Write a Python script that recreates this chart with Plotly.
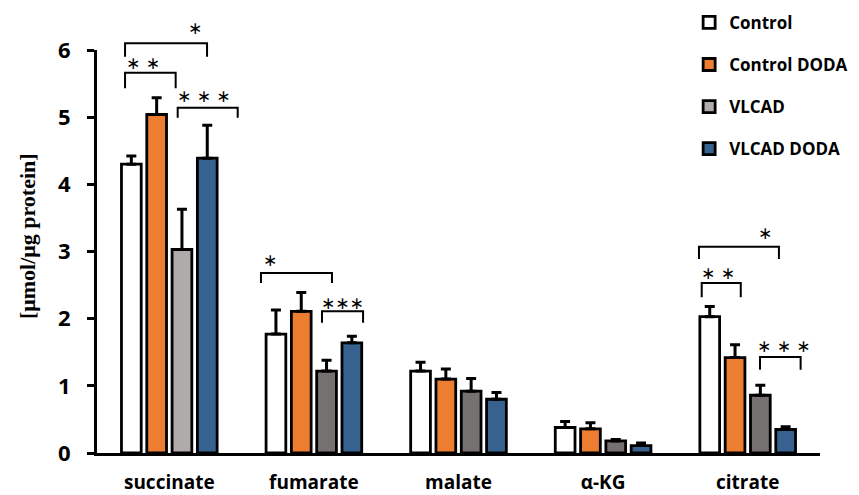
import plotly.graph_objects as go

# ---------------- data ----------------
categories = ["succinate", "fumarate", "malate", "α-KG", "citrate"]
series_names = ["Control", "Control DODA", "VLCAD", "VLCAD DODA"]

control = [4.30, 1.77, 1.22, 0.38, 2.03]
control_err = [0.12, 0.36, 0.13, 0.09, 0.15]
control_doda = [5.04, 2.11, 1.10, 0.36, 1.42]
control_doda_err = [0.25, 0.28, 0.15, 0.09, 0.19]
vlcad = [3.03, 1.22, 0.92, 0.18, 0.86]
vlcad_err = [0.60, 0.16, 0.19, 0.02, 0.15]
vlcad_doda = [4.39, 1.64, 0.80, 0.11, 0.35]
vlcad_doda_err = [0.49, 0.10, 0.10, 0.04, 0.04]

y_ticks = [0, 1, 2, 3, 4, 5, 6]
y_title = "[μmol/μg protein]"

# significance brackets: category index, left/right offset (category units),
# top y, leg-bottom y, label, label x offset, label y
brackets = [
    (0, -0.306, 0.261, 6.10, 5.90, "∗", 0.178, 6.33),
    (0, -0.306, 0.044, 5.66, 5.43, "∗ ∗", -0.182, 5.81),
    (0, 0.058, 0.473, 5.14, 4.99, "∗ ∗ ∗", 0.240, 5.32),
    (1, -0.366, 0.125, 2.68, 2.53, "∗", -0.304, 2.88),
    (1, 0.056, 0.340, 2.11, 1.94, "∗∗∗", 0.201, 2.23),
    (4, -0.337, 0.216, 3.07, 2.89, "∗", 0.120, 3.27),
    (4, -0.318, -0.048, 2.53, 2.32, "∗ ∗", -0.205, 2.68),
    (4, 0.085, 0.366, 1.43, 1.24, "∗ ∗ ∗", 0.251, 1.59),
]

# ---------------- styles ----------------
colors = ["#FFFFFF", "#ED7D31", "#767171", "#37628F"]
vlcad_colors = ["#AFABAB", "#767171", "#767171", "#767171", "#767171"]
XR = [-0.5, 4.5]
YR = [0, 6]
FONT = "Open Sans"

values = [control, control_doda, vlcad, vlcad_doda]
errors = [control_err, control_doda_err, vlcad_err, vlcad_doda_err]

fig = go.Figure()
for i, name in enumerate(series_names):
    fig.add_trace(go.Bar(
        x=categories,
        y=values[i],
        name=name,
        legendgroup=name,
        marker=dict(color=vlcad_colors if i == 2 else colors[i],
                    line=dict(color="black", width=2.8)),
        error_y=dict(type="data", array=errors[i], symmetric=False,
                     arrayminus=[0] * len(categories),
                     thickness=3, width=5, color="black"),
    ))


def xp(c):
    return (c - XR[0]) / (XR[1] - XR[0])


def yp(v):
    return (v - YR[0]) / (YR[1] - YR[0])


shapes = []
annotations = []
for cat, xl, xr, yt, yb, lab, sx, sy in brackets:
    x0, x1 = xp(cat + xl), xp(cat + xr)
    shapes.append(dict(
        type="path", xref="paper", yref="paper",
        path=f"M {x0},{yp(yb)} L {x0},{yp(yt)} L {x1},{yp(yt)} L {x1},{yp(yb)}",
        line=dict(color="black", width=2),
    ))
    annotations.append(dict(
        x=xp(cat + sx), y=yp(sy), xref="paper", yref="paper",
        text=lab, showarrow=False, xanchor="center", yanchor="middle",
        font=dict(family="DejaVu Sans", size=17, color="black"),
    ))

annotations.append(dict(
    x=-0.097, y=0.538, xref="paper", yref="paper", text=f"<b>{y_title}</b>",
    textangle=-90, showarrow=False, xanchor="center", yanchor="middle",
    font=dict(family="Liberation Serif", size=22, color="black"),
))

# the page body has an 8px default margin, so the figure is sized to the visible area
fig.update_layout(
    width=851, height=487,
    margin=dict(l=89, r=39, t=42, b=42, autoexpand=False),
    paper_bgcolor="white", plot_bgcolor="white",
    barmode="group", bargap=0.30, bargroupgap=0.22,
    showlegend=True,
    legend=dict(x=0.819, y=1.112, xanchor="left", yanchor="top",
                font=dict(family=FONT, size=17, color="black", weight="bold"),
                tracegroupgap=17, bgcolor="rgba(0,0,0,0)", traceorder="grouped"),
    shapes=shapes,
    annotations=annotations,
    font=dict(family=FONT, color="black"),
)
fig.update_xaxes(
    type="category", range=XR, showline=True, linecolor="black", linewidth=3,
    ticks="", showgrid=False, zeroline=False, ticklabelstandoff=10,
    tickfont=dict(family=FONT, size=19, color="black", weight="bold"),
)
fig.update_yaxes(
    range=YR, tickvals=y_ticks, showline=True, linecolor="black", linewidth=3,
    ticks="outside", ticklen=7, tickwidth=3, tickcolor="black",
    showgrid=False, zeroline=False, ticklabelstandoff=12,
    tickfont=dict(family=FONT, size=22, color="black", weight="bold"),
)

fig.write_html("out.html")
